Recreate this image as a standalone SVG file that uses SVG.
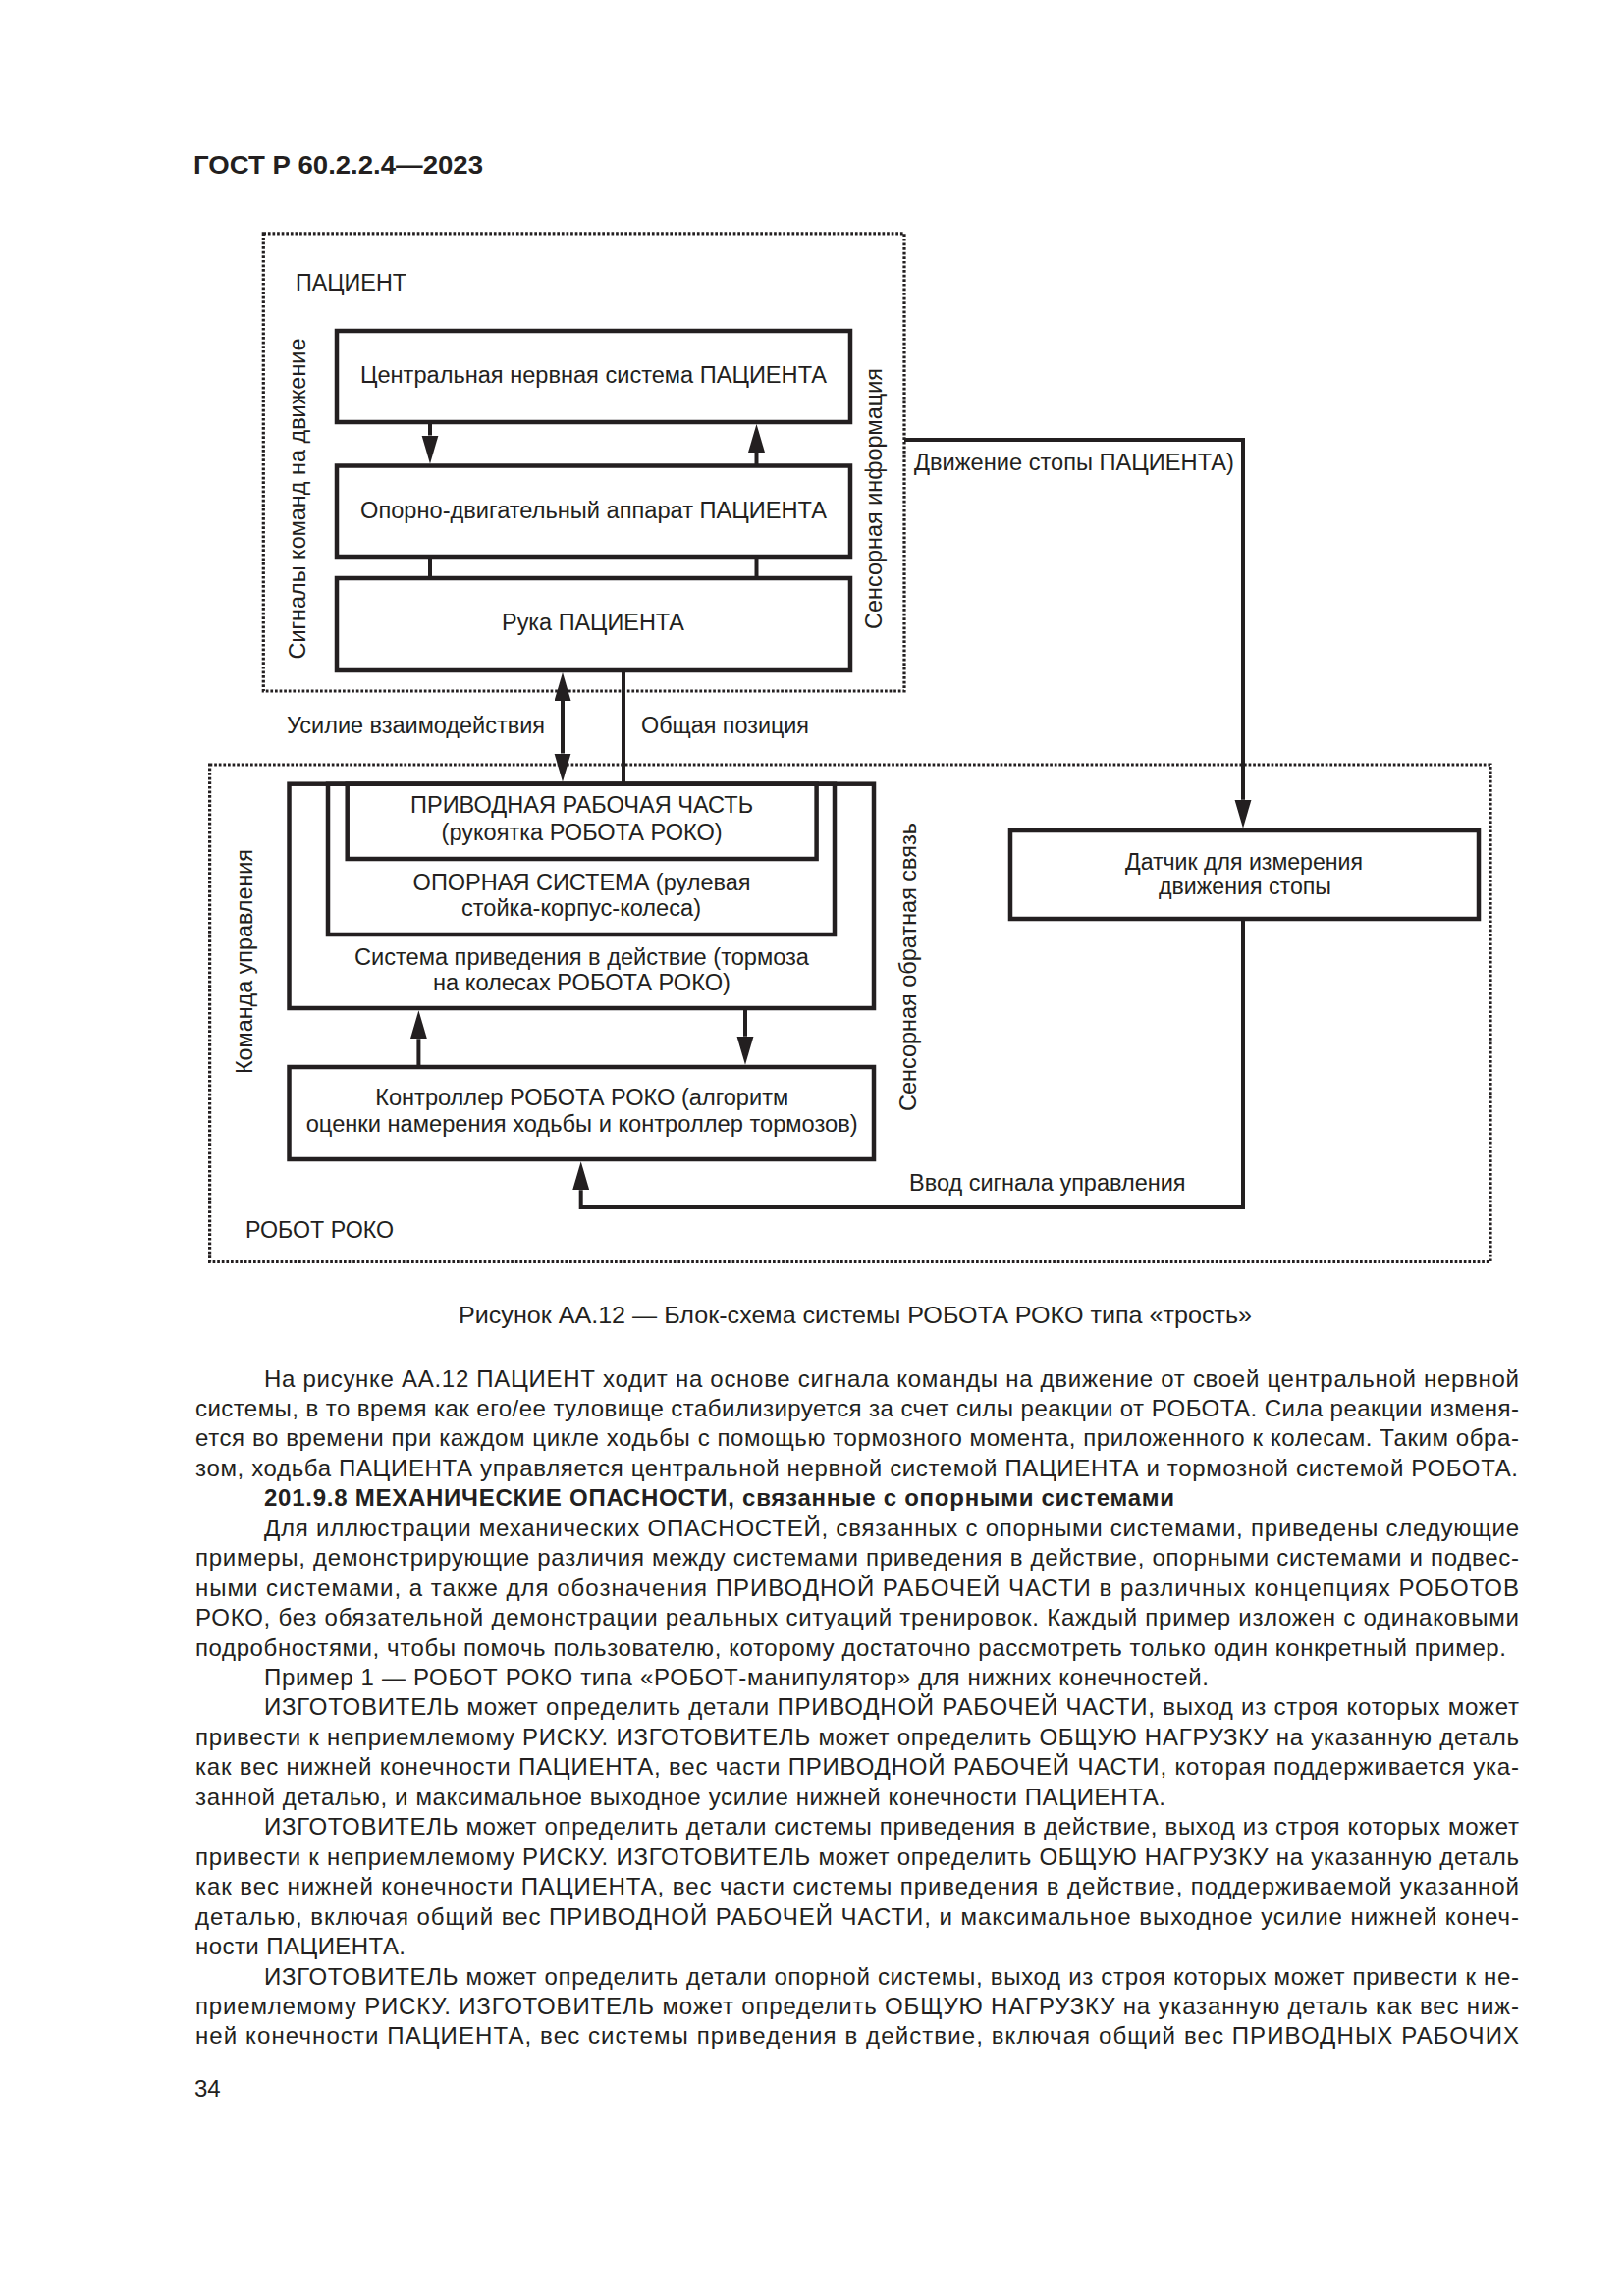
<svg xmlns="http://www.w3.org/2000/svg" width="1654" height="2339" viewBox="0 0 1654 2339">
<defs>
<style>
text{font-family:"Liberation Sans",Arial,sans-serif;fill:#231f20}
.hdr{font-size:26.5px;font-weight:bold}
.lbl{font-size:23.5px}
.body{font-size:24px}
.bold{font-weight:bold}
.box{fill:none;stroke:#231f20;stroke-width:4.5}
.dot{fill:none;stroke:#231f20;stroke-width:3.2;stroke-dasharray:2.7 1.9}
.con{fill:none;stroke:#231f20;stroke-width:4}
.arr{marker-end:url(#ah)}
.arr2{marker-start:url(#ah);marker-end:url(#ah)}
</style>
<marker id="ah" markerUnits="userSpaceOnUse" markerWidth="30" markerHeight="18" refX="0" refY="8.5" orient="auto-start-reverse" viewBox="0 0 30 18">
<path d="M0,0 L29,8.5 L0,17 Z" fill="#231f20"/>
</marker>
</defs>
<rect width="1654" height="2339" fill="#ffffff"/>

<text class="hdr" x="197" y="177" textLength="295" lengthAdjust="spacingAndGlyphs">ГОСТ Р 60.2.2.4—2023</text>

<g id="patient">
<rect class="dot" x="268.3" y="237.8" width="652.7" height="466.2"/>
<text class="lbl" x="301" y="296" textLength="113" lengthAdjust="spacingAndGlyphs">ПАЦИЕНТ</text>
<text class="lbl" transform="translate(311,671.5) rotate(-90)" textLength="327" lengthAdjust="spacingAndGlyphs">Сигналы команд на движение</text>
<text class="lbl" transform="translate(898,641) rotate(-90)" textLength="266" lengthAdjust="spacingAndGlyphs">Сенсорная информация</text>
</g>
<g id="cns">
<rect class="box" x="343" y="337" width="523" height="93"/>
<text class="lbl" x="604.5" y="389.5" text-anchor="middle" textLength="475" lengthAdjust="spacingAndGlyphs">Центральная нервная система ПАЦИЕНТА</text>
</g>
<g id="oda">
<rect class="box" x="343" y="474.5" width="523" height="92.5"/>
<text class="lbl" x="604.5" y="528" text-anchor="middle" textLength="475" lengthAdjust="spacingAndGlyphs">Опорно-двигательный аппарат ПАЦИЕНТА</text>
</g>
<g id="hand">
<rect class="box" x="343" y="589" width="523" height="94"/>
<text class="lbl" x="604" y="642" text-anchor="middle" textLength="186" lengthAdjust="spacingAndGlyphs">Рука ПАЦИЕНТА</text>
</g>

<g id="robot">
<rect class="dot" x="213.6" y="779" width="1304.4" height="506.5"/>
<text class="lbl" x="250" y="1261" textLength="151" lengthAdjust="spacingAndGlyphs">РОБОТ РОКО</text>
<text class="lbl" transform="translate(257,1094) rotate(-90)" textLength="229" lengthAdjust="spacingAndGlyphs">Команда управления</text>
<text class="lbl" transform="translate(933,1132) rotate(-90)" textLength="294" lengthAdjust="spacingAndGlyphs">Сенсорная обратная связь</text>
</g>
<g id="actuation">
<rect class="box" x="294.5" y="798.7" width="595.5" height="228.3"/>
<text class="lbl" x="592.5" y="983" text-anchor="middle" textLength="463" lengthAdjust="spacingAndGlyphs">Система приведения в действие (тормоза</text>
<text class="lbl" x="592.5" y="1009" text-anchor="middle" textLength="303" lengthAdjust="spacingAndGlyphs">на колесах РОБОТА РОКО)</text>
</g>
<g id="support">
<rect class="box" x="334" y="798.7" width="516" height="153.3"/>
<text class="lbl" x="592.6" y="906.7" text-anchor="middle" textLength="344" lengthAdjust="spacingAndGlyphs">ОПОРНАЯ СИСТЕМА (рулевая</text>
<text class="lbl" x="592" y="932.7" text-anchor="middle" textLength="244" lengthAdjust="spacingAndGlyphs">стойка-корпус-колеса)</text>
</g>
<g id="handle">
<rect class="box" x="353.7" y="798.7" width="477.9" height="76.3"/>
<text class="lbl" x="592.6" y="828" text-anchor="middle" textLength="349" lengthAdjust="spacingAndGlyphs">ПРИВОДНАЯ РАБОЧАЯ ЧАСТЬ</text>
<text class="lbl" x="592.6" y="856" text-anchor="middle" textLength="286" lengthAdjust="spacingAndGlyphs">(рукоятка РОБОТА РОКО)</text>
</g>
<g id="controller">
<rect class="box" x="294.5" y="1087" width="595.5" height="94"/>
<text class="lbl" x="592.7" y="1126" text-anchor="middle" textLength="421" lengthAdjust="spacingAndGlyphs">Контроллер РОБОТА РОКО (алгоритм</text>
<text class="lbl" x="592.7" y="1152.7" text-anchor="middle" textLength="562" lengthAdjust="spacingAndGlyphs">оценки намерения ходьбы и контроллер тормозов)</text>
</g>
<g id="sensor">
<rect class="box" x="1029" y="846" width="477" height="90"/>
<text class="lbl" x="1267" y="886" text-anchor="middle" textLength="242" lengthAdjust="spacingAndGlyphs">Датчик для измерения</text>
<text class="lbl" x="1268" y="911" text-anchor="middle" textLength="176" lengthAdjust="spacingAndGlyphs">движения стопы</text>
</g>

<g id="connectors">
<line class="con arr" x1="438" y1="430" x2="438" y2="443.5"/>
<line class="con arr" x1="770.5" y1="474.5" x2="770.5" y2="461"/>
<line class="con" x1="438" y1="567" x2="438" y2="589"/>
<line class="con" x1="770.5" y1="567" x2="770.5" y2="589"/>
<line class="con arr2" x1="573" y1="714" x2="573" y2="767.5"/>
<line class="con" x1="635" y1="683" x2="635" y2="798.7"/>
<polyline class="con arr" points="921,448 1266,448 1266,814.75"/>
<polyline class="con arr" points="1266,936 1266,1230 591.7,1230 591.7,1212.25"/>
<line class="con arr" x1="426.4" y1="1087" x2="426.4" y2="1058.25"/>
<line class="con arr" x1="759" y1="1027" x2="759" y2="1055.75"/>
<text class="lbl" x="931" y="479" textLength="326" lengthAdjust="spacingAndGlyphs">Движение стопы ПАЦИЕНТА)</text>
<text class="lbl" x="292" y="746.7" textLength="263" lengthAdjust="spacingAndGlyphs">Усилие взаимодействия</text>
<text class="lbl" x="653" y="746.7" textLength="171" lengthAdjust="spacingAndGlyphs">Общая позиция</text>
<text class="lbl" x="926" y="1212.7" textLength="281.5" lengthAdjust="spacingAndGlyphs">Ввод сигнала управления</text>
</g>

<text class="body" x="871" y="1348" text-anchor="middle" textLength="808" lengthAdjust="spacingAndGlyphs">Рисунок АА.12 — Блок-схема системы РОБОТА РОКО типа «трость»</text>

<g id="bodytext" class="body">
<text class="body" x="269" y="1412.5" textLength="1278" lengthAdjust="spacing">На рисунке АА.12 ПАЦИЕНТ ходит на основе сигнала команды на движение от своей центральной нервной</text>
<text class="body" x="199" y="1442.95" textLength="1348" lengthAdjust="spacing">системы, в то время как его/ее туловище стабилизируется за счет силы реакции от РОБОТА. Сила реакции изменя-</text>
<text class="body" x="199" y="1473.4" textLength="1348" lengthAdjust="spacing">ется во времени при каждом цикле ходьбы с помощью тормозного момента, приложенного к колесам. Таким обра-</text>
<text class="body" x="199" y="1503.85" textLength="1347" lengthAdjust="spacing">зом, ходьба ПАЦИЕНТА управляется центральной нервной системой ПАЦИЕНТА и тормозной системой РОБОТА.</text>
<text class="body bold" x="269" y="1534.3" textLength="927" lengthAdjust="spacing">201.9.8 МЕХАНИЧЕСКИЕ ОПАСНОСТИ, связанные с опорными системами</text>
<text class="body" x="269" y="1564.75" textLength="1278" lengthAdjust="spacing">Для иллюстрации механических ОПАСНОСТЕЙ, связанных с опорными системами, приведены следующие</text>
<text class="body" x="199" y="1595.2" textLength="1348" lengthAdjust="spacing">примеры, демонстрирующие различия между системами приведения в действие, опорными системами и подвес-</text>
<text class="body" x="199" y="1625.65" textLength="1348" lengthAdjust="spacing">ными системами, а также для обозначения ПРИВОДНОЙ РАБОЧЕЙ ЧАСТИ в различных концепциях РОБОТОВ</text>
<text class="body" x="199" y="1656.1" textLength="1348" lengthAdjust="spacing">РОКО, без обязательной демонстрации реальных ситуаций тренировок. Каждый пример изложен с одинаковыми</text>
<text class="body" x="199" y="1686.55" textLength="1335" lengthAdjust="spacing">подробностями, чтобы помочь пользователю, которому достаточно рассмотреть только один конкретный пример.</text>
<text class="body" x="269" y="1717" textLength="962" lengthAdjust="spacing">Пример 1 — РОБОТ РОКО типа «РОБОТ-манипулятор» для нижних конечностей.</text>
<text class="body" x="269" y="1747.45" textLength="1278" lengthAdjust="spacing">ИЗГОТОВИТЕЛЬ может определить детали ПРИВОДНОЙ РАБОЧЕЙ ЧАСТИ, выход из строя которых может</text>
<text class="body" x="199" y="1777.9" textLength="1348" lengthAdjust="spacing">привести к неприемлемому РИСКУ. ИЗГОТОВИТЕЛЬ может определить ОБЩУЮ НАГРУЗКУ на указанную деталь</text>
<text class="body" x="199" y="1808.35" textLength="1348" lengthAdjust="spacing">как вес нижней конечности ПАЦИЕНТА, вес части ПРИВОДНОЙ РАБОЧЕЙ ЧАСТИ, которая поддерживается ука-</text>
<text class="body" x="199" y="1838.8" textLength="988" lengthAdjust="spacing">занной деталью, и максимальное выходное усилие нижней конечности ПАЦИЕНТА.</text>
<text class="body" x="269" y="1869.25" textLength="1278" lengthAdjust="spacing">ИЗГОТОВИТЕЛЬ может определить детали системы приведения в действие, выход из строя которых может</text>
<text class="body" x="199" y="1899.7" textLength="1348" lengthAdjust="spacing">привести к неприемлемому РИСКУ. ИЗГОТОВИТЕЛЬ может определить ОБЩУЮ НАГРУЗКУ на указанную деталь</text>
<text class="body" x="199" y="1930.15" textLength="1348" lengthAdjust="spacing">как вес нижней конечности ПАЦИЕНТА, вес части системы приведения в действие, поддерживаемой указанной</text>
<text class="body" x="199" y="1960.6" textLength="1348" lengthAdjust="spacing">деталью, включая общий вес ПРИВОДНОЙ РАБОЧЕЙ ЧАСТИ, и максимальное выходное усилие нижней конеч-</text>
<text class="body" x="199" y="1991.05" textLength="214" lengthAdjust="spacing">ности ПАЦИЕНТА.</text>
<text class="body" x="269" y="2021.5" textLength="1278" lengthAdjust="spacing">ИЗГОТОВИТЕЛЬ может определить детали опорной системы, выход из строя которых может привести к не-</text>
<text class="body" x="199" y="2051.95" textLength="1348" lengthAdjust="spacing">приемлемому РИСКУ. ИЗГОТОВИТЕЛЬ может определить ОБЩУЮ НАГРУЗКУ на указанную деталь как вес ниж-</text>
<text class="body" x="199" y="2082.4" textLength="1348" lengthAdjust="spacing">ней конечности ПАЦИЕНТА, вес системы приведения в действие, включая общий вес ПРИВОДНЫХ РАБОЧИХ</text>
</g>
<text class="body" x="198" y="2136">34</text>
</svg>
